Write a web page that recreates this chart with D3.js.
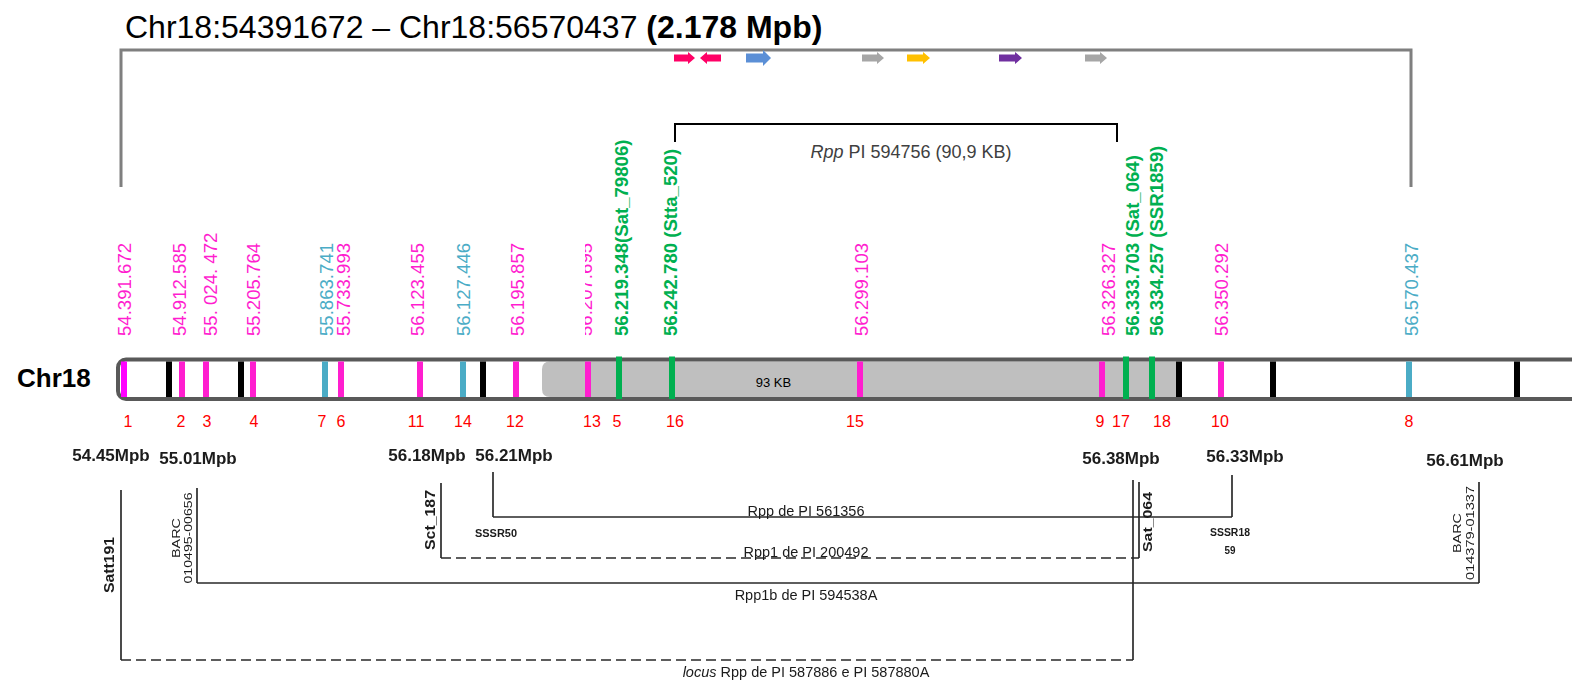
<!DOCTYPE html>
<html>
<head>
<meta charset="utf-8">
<script src="https://cdn.jsdelivr.net/npm/d3@7"></script>
<style>
  html, body { margin: 0; padding: 0; background: #fff; }
  svg { display: block; font-family: "Liberation Sans", Arial, Helvetica, sans-serif; }
</style>
</head>
<body>
<svg id="chart" width="1572" height="681"></svg>
<script>
// ---------------- data ----------------
const titleText = "Chr18:54391672 – Chr18:56570437 ";
const titleBold = "(2.178 Mpb)";
const chromName = "Chr18";

// labelled markers along the chromosome (schematic map units from the left end)
const markerNum  = [1, 2, 3, 4, 7, 6, 11, 14, 12, 13, 5, 16, 15, 9, 17, 18, 10, 8];
const markerPos  = [8, 66, 90, 137, 209, 225, 304, 347, 400, 472, 503, 556, 744, 986, 1010, 1036, 1105, 1293];
const markerText = ["54.391.672", "54.912.585", "55. 024. 472", "55.205.764", "55.863.741", "55.733.993",
                    "56.123.455", "56.127.446", "56.195.857", "56.207.695", "56.219.348(Sat_79806)",
                    "56.242.780 (Stta_520)", "56.299.103", "56.326.327", "56.333.703 (Sat_064)",
                    "56.334.257 (SSR1859)", "56.350.292", "56.570.437"];
const markerKind = ["first", "snp", "snp", "snp", "alt", "snp", "snp", "alt", "snp", "snp", "ssr",
                    "ssr", "snp", "snp", "ssr", "ssr", "snp", "alt"];

// unlabelled reference ticks on the chromosome
const tickPos = [53, 125, 367, 1063, 1157, 1401];

// shaded candidate region
const regionSpan = [426, 1060];
const regionText = "93 KB";

// annotated genes above the window (start, end, strand, family)
const geneStart  = [558, 584, 630, 746, 791, 883, 969];
const geneEnd    = [579, 605, 655, 768, 814, 906, 991];
const geneStrand = [1, -1, 1, 1, 1, 1, 1];
const geneKind   = ["a", "a", "b", "c", "d", "e", "c"];

// whole window and the fine-mapped Rpp interval
const windowSpan = [5, 1295];
const rppSpan    = [559, 1001];
const rppItalic  = "Rpp";
const rppText    = " PI 594756 (90,9 KB)";

// flanking markers of the published Rpp intervals
const flankName = [["Satt191"], ["BARC", "010495-00656"], ["Sct_187"], ["SSSR50"], [],
                   ["Sat_064"], ["SSSR18", "59"], ["BARC", "014379-01337"]];
const flankMb   = ["54.45Mpb", "55.01Mpb", "56.18Mpb", "56.21Mpb", "56.38Mpb", "", "56.33Mpb", "56.61Mpb"];
const flankPos  = [5, 81, 325, 377, 1017, 1023, 1116, 1363];

// intervals between flanking markers
const intLeft   = [3, 2, 1, 0];
const intRight  = [6, 5, 7, 4];
const intDashed = [false, true, false, true];
const intItalic = ["", "", "", "locus"];
const intText   = ["Rpp de PI 561356", "Rpp1 de PI 200492", "Rpp1b de PI 594538A", " Rpp de PI 587886 e PI 587880A"];

// ---------------- styles ----------------
const kindColor = d3.scaleOrdinal()
  .domain(["first", "snp", "alt", "ssr", "ref"])
  .range(["#ff00ff", "#ff1ecf", "#4bacc6", "#00b050", "#000000"]);
const textColor = k => k === "first" ? kindColor("snp") : kindColor(k);
const geneColor = d3.scaleOrdinal()
  .domain(["a", "b", "c", "d", "e"])
  .range(["#ff0066", "#5b8fd6", "#a6a6a6", "#ffc000", "#7030a0"]);

// ---------------- layout ----------------
const W = 1572, H = 681;
const x = d3.scaleLinear().domain([0, 1456]).range([116, 1572]);
const chromTop = 359.5, chromBot = 399;
const labelBase = 336;
// small horizontal nudges of labels relative to their band
const labelDx = [0, -3, 4, 0, 1, 2, -3, 0, 1, -3, 2, -2, 1, 6, 6, 4, 0, 2];
const numDx   = [4, -1, 1, 1, -3, 0, -4, 0, -1, 4, -2, 3, -5, -2, -5, 10, -1, 0];

const svg = d3.select("#chart");
const defs = svg.append("defs");

// title
const title = svg.append("text")
  .attr("x", 125).attr("y", 38)
  .attr("font-size", 32).attr("fill", "#000");
title.append("tspan").text(titleText);
title.append("tspan").attr("font-weight", "bold").text(titleBold);

// window bracket
svg.append("path")
  .attr("d", `M${x(windowSpan[0])},187 V50 H${x(windowSpan[1])} V187`)
  .attr("fill", "none").attr("stroke", "#7f7f7f").attr("stroke-width", 3);

// gene arrows
const geneIdx = d3.range(geneStart.length);
svg.append("g").selectAll("path").data(geneIdx).join("path")
  .attr("d", i => {
    const big = geneKind[i] === "b";
    const bh = big ? 4.5 : 3.5, hh = big ? 8 : 6, hl = big ? 8 : 7;
    const yc = 58;
    const a = x(geneStart[i]), b = x(geneEnd[i]);
    if (geneStrand[i] > 0) {
      return `M${a},${yc - bh} H${b - hl} V${yc - hh} L${b},${yc} L${b - hl},${yc + hh} V${yc + bh} H${a} Z`;
    }
    return `M${b},${yc - bh} H${a + hl} V${yc - hh} L${a},${yc} L${a + hl},${yc + hh} V${yc + bh} H${b} Z`;
  })
  .attr("fill", i => geneColor(geneKind[i]));

// Rpp bracket
svg.append("path")
  .attr("d", `M${x(rppSpan[0])},142 V124 H${x(rppSpan[1])} V142`)
  .attr("fill", "none").attr("stroke", "#000").attr("stroke-width", 2);
const rl = svg.append("text")
  .attr("x", (x(rppSpan[0]) + x(rppSpan[1])) / 2 + 15).attr("y", 158)
  .attr("text-anchor", "middle").attr("font-size", 18).attr("fill", "#404040");
rl.append("tspan").attr("font-style", "italic").text(rppItalic);
rl.append("tspan").text(rppText);

// rotated position labels
const mIdx = d3.range(markerPos.length);
const clipped = markerNum.indexOf(13);
const clipId = "clip-m13";
defs.append("clipPath").attr("id", clipId).append("rect")
  .attr("x", 0).attr("y", 0)
  .attr("width", x(markerPos[clipped]) + labelDx[clipped] + 6).attr("height", H);
svg.append("g").selectAll("text").data(mIdx).join("text")
  .attr("transform", i => `translate(${x(markerPos[i]) + labelDx[i]},${labelBase}) rotate(-90)`)
  .attr("dy", "0.35em")
  .attr("font-size", 18.6)
  .attr("font-weight", i => markerKind[i] === "ssr" ? "bold" : "normal")
  .attr("fill", i => textColor(markerKind[i]))
  .attr("clip-path", i => i === clipped ? `url(#${clipId})` : null)
  .text(i => markerText[i]);

// chromosome
svg.append("text").attr("x", 17).attr("y", 387)
  .attr("font-size", 26).attr("font-weight", "bold").text(chromName);

const r0 = x(regionSpan[0]), r1 = x(regionSpan[1]);
const rt = chromTop + 2, rb = chromBot - 2, rr = 8;
svg.append("path")
  .attr("d", `M${r0 + rr},${rt} H${r1} V${rb} H${r0 + rr} Q${r0},${rb} ${r0},${rb - rr} V${rt + rr} Q${r0},${rt} ${r0 + rr},${rt} Z`)
  .attr("fill", "#bfbfbf");
svg.append("text").attr("x", r0 + (r1 - r0) * 0.365).attr("y", 387)
  .attr("text-anchor", "middle").attr("font-size", 13).attr("fill", "#000").text(regionText);

svg.append("rect")
  .attr("x", x(0) + 2).attr("y", chromTop)
  .attr("width", W).attr("height", chromBot - chromTop)
  .attr("rx", 8)
  .attr("fill", "none").attr("stroke", "#595959").attr("stroke-width", 4);

// bands
const bands = tickPos.map(p => ({ pos: p, kind: "ref" }))
  .concat(mIdx.map(i => ({ pos: markerPos[i], kind: markerKind[i] })));
svg.append("g").selectAll("rect").data(bands).join("rect")
  .attr("x", d => x(d.pos) - 3)
  .attr("y", d => d.kind === "ssr" ? chromTop - 3 : chromTop + 2)
  .attr("width", 6)
  .attr("height", d => d.kind === "ssr" ? chromBot - chromTop + 3 : chromBot - chromTop - 4)
  .attr("fill", d => kindColor(d.kind));

// marker numbers
svg.append("g").selectAll("text").data(mIdx).join("text")
  .attr("x", i => x(markerPos[i]) + numDx[i])
  .attr("y", 427)
  .attr("text-anchor", "middle")
  .attr("font-size", 16)
  .attr("fill", "#ff0000")
  .text(i => markerNum[i]);

// ---------------- flanking intervals ----------------
defs.append("filter").attr("id", "soft")
  .append("feGaussianBlur").attr("stdDeviation", 0.5);
const low = svg.append("g").attr("filter", "url(#soft)");
const ink = "#2a2a2a";

// stem tops and label placement for each flanking marker
const stemTop = [490, 488, 483, 472, 480, 482, 475, 482];
const mbDx    = [-10, 1, -14, 21, -12, 0, 13, -14];
const mbBase  = [461, 464, 461, 461, 464, 0, 462, 466];
const intY    = [517, 558, 583, 660];
const intTextY = [516, 557, 600, 677];
const intCenter = x(690);

// stems: each flank marker drops to the interval that uses it
const stemBottom = flankPos.map((p, k) => {
  const j = intLeft.indexOf(k) >= 0 ? intLeft.indexOf(k) : intRight.indexOf(k);
  return intY[j];
});
low.append("g").selectAll("line").data(d3.range(flankPos.length)).join("line")
  .attr("x1", k => x(flankPos[k])).attr("x2", k => x(flankPos[k]))
  .attr("y1", k => stemTop[k]).attr("y2", k => stemBottom[k])
  .attr("stroke", ink).attr("stroke-width", 1.7);

// horizontal interval lines
low.append("g").selectAll("line").data(d3.range(intLeft.length)).join("line")
  .attr("x1", j => x(flankPos[intLeft[j]])).attr("x2", j => x(flankPos[intRight[j]]))
  .attr("y1", j => intY[j]).attr("y2", j => intY[j])
  .attr("stroke", ink).attr("stroke-width", 1.7)
  .attr("stroke-dasharray", j => intDashed[j] ? "10,5" : null);

// interval names
low.append("g").selectAll("text").data(d3.range(intLeft.length)).join("text")
  .attr("x", intCenter).attr("y", j => intTextY[j])
  .attr("text-anchor", "middle").attr("font-size", 14.5).attr("fill", "#1a1a1a")
  .each(function (j) {
    const t = d3.select(this);
    if (intItalic[j]) t.append("tspan").attr("font-style", "italic").text(intItalic[j]);
    t.append("tspan").text(intText[j]);
  });

// Mb positions
low.append("g").selectAll("text").data(d3.range(flankPos.length).filter(k => flankMb[k])).join("text")
  .attr("x", k => x(flankPos[k]) + mbDx[k]).attr("y", k => mbBase[k])
  .attr("text-anchor", "middle").attr("font-size", 17).attr("font-weight", "bold").attr("fill", "#1a1a1a")
  .text(k => flankMb[k]);

// marker names (rotated or horizontal)
const nameLayout = [
  { rot: true, dx: [-12], cy: 565, size: 15, bold: true, len: [56] },
  { rot: true, dx: [-21, -9], cy: 538, size: 11.5, bold: false, len: [40, 91] },
  { rot: true, dx: [-11], cy: 520, size: 15, bold: true, len: [60] },
  { rot: false, dx: [3], y: [537], size: 11, bold: true, len: [42] },
  null,
  { rot: true, dx: [9], cy: 522, size: 12, bold: true, len: [60] },
  { rot: false, dx: [-2, -2], y: [536, 554], size: 11, bold: true, len: [40, 11] },
  { rot: true, dx: [-22, -9], cy: 533, size: 11.5, bold: false, len: [40, 94] }
];
flankName.forEach((lines, k) => {
  const L = nameLayout[k];
  if (!L) return;
  lines.forEach((s, n) => {
    const t = low.append("text")
      .attr("font-size", L.size).attr("font-weight", L.bold ? "bold" : "normal")
      .attr("fill", "#1a1a1a").attr("text-anchor", "middle")
      .attr("textLength", L.len[n]).attr("lengthAdjust", "spacingAndGlyphs")
      .text(s);
    if (L.rot) {
      t.attr("transform", `translate(${x(flankPos[k]) + L.dx[n]},${L.cy}) rotate(-90)`).attr("dy", "0.35em");
    } else {
      t.attr("x", x(flankPos[k]) + L.dx[n]).attr("y", L.y[n]);
    }
  });
});
</script>
</body>
</html>
